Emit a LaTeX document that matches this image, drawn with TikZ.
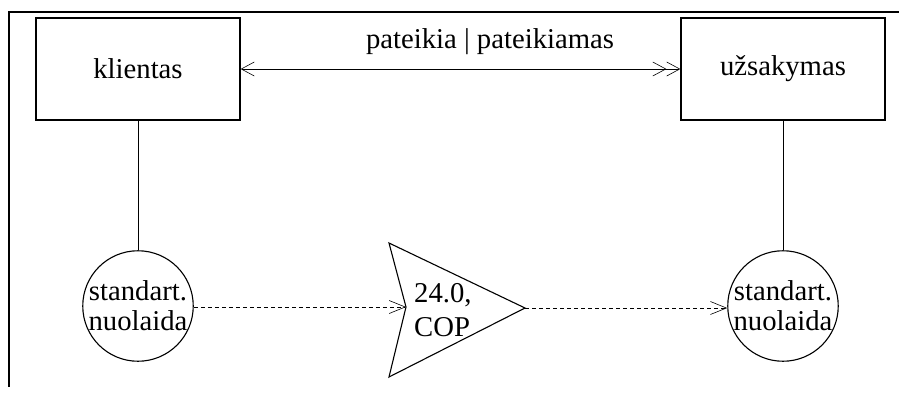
\documentclass[tikz,border=0pt]{standalone}
\usepackage{fontspec}
\setmainfont{Liberation Serif}
\newfontfamily\tnr{Liberation Serif}
\usetikzlibrary{arrows.meta}
\tikzset{
  entity/.style={draw, line width=1.3pt, minimum width=204pt, minimum height=102pt, inner sep=0pt, font=\tnr\fontsize{28.7}{32}\selectfont},
  attr/.style={draw, line width=1.1pt, circle, minimum size=104pt, inner sep=0pt, align=center, font=\tnr\fontsize{28.7}{30}\selectfont},
  lbl/.style={inner sep=0pt, font=\tnr\fontsize{28.7}{34}\selectfont, align=left},
  thin/.style={line width=0.6pt},
  flow/.style={thin, dashed, dash pattern=on 4pt off 3pt, -{Straight Barb[length=16pt,width=13pt,line width=0.6pt]}},
  frame/.style={line width=1.8pt}
}
\begin{document}
\begin{tikzpicture}[x=1pt,y=-1pt]
\useasboundingbox (0,0) rectangle (899,394);
\coordinate (ftl) at (9,12);
\coordinate (ftr) at (899,12);
\coordinate (fbl) at (9,387);
\draw[frame] (ftr) -- (ftl) -- (fbl);

\node[entity] (kl) at (138,69) {klientas};
\node[entity] (uz) at (783,69) {užsakymas};
\draw[thin, {Straight Barb[length=13pt,width=14pt,line width=0.6pt]}-{Straight Barb[length=13pt,width=14pt,line width=0.6pt] Straight Barb[length=13pt,width=14pt,line width=0.6pt]}] (kl.east) -- (uz.west);
\node[lbl, anchor=base] (rel) at (490,48) {pateikia | pateikiamas};

\node[attr] (c1) at (138,306) {standart.\\nuolaida};
\node[attr] (c2) at (783,306) {standart.\\nuolaida};
\draw[thin] (kl.south) -- (c1.north);
\draw[thin] (uz.south) -- (c2.north);

\coordinate (ttl) at (389,243);
\coordinate (tn) at (406,307);
\coordinate (tbl) at (389,377);
\coordinate (tt) at (525,308);
\draw[line width=1.1pt, line join=miter] (ttl) -- (tt) -- (tbl) -- (tn) -- cycle;
\node[lbl, anchor=base west] (t1) at (414,302) {24.0,};
\node[lbl, anchor=base west] (t2) at (414,336) {COP};

\draw[flow] (c1.east |- tn) -- (tn);
\draw[flow] (tt) -- (c2.west |- tt);
\end{tikzpicture}
\end{document}
